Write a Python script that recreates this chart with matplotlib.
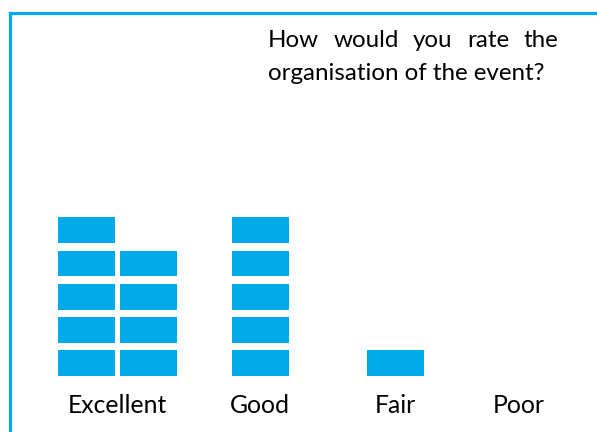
import matplotlib
matplotlib.use("Agg")
import matplotlib.pyplot as plt
from matplotlib.lines import Line2D

# survey answers
categories = ["Excellent", "Good", "Fair", "Poor"]
counts = [9, 5, 1, 0]
title_lines = ["How would you rate the", "organisation of the event?"]

BLUE = "#00a9e8"
INK = "#000000"
FONT = dict(family="Lato", color=INK)
per_column = 5          # blocks stacked per column before starting a new one
block_h = 0.78          # block height in y units (one unit = one block pitch)
block_w = 57            # width in pixel-like x units
col_pitch = 62
centers = [117, 260, 395, 519]

W, H = 597, 432
fig = plt.figure(figsize=(W / 100, H / 100), dpi=100)
ax = fig.add_axes([0, 0, 1, 1])
ax.set_xlim(0, W)
# y: 0 at block baseline, one unit per stacked block
px_per_unit = 33.2
base_px = 376
ax.set_ylim((base_px - H) / px_per_unit, base_px / px_per_unit)
ax.axis("off")

for cat, n, cx in zip(categories, counts, centers):
    ncols = (n + per_column - 1) // per_column
    xs, bottoms = [], []
    for i in range(n):
        col = i // per_column
        row = i % per_column
        xs.append(cx + (col - (ncols - 1) / 2) * col_pitch)
        bottoms.append(row)
    if n:
        ax.bar(xs, block_h, bottom=bottoms, width=block_w, color=BLUE,
               edgecolor="none")
    ax.text(cx, (base_px - 413) / px_per_unit, cat, ha="center",
            va="baseline", fontsize=17.8, **FONT)

# title: first line justified between left and right edge, second flush left
renderer = fig.canvas.get_renderer()
left, right = 268, 558
baselines = [47, 80]
words = title_lines[0].split()
arts = [fig.text(0, 0, w, fontsize=17.4, va="baseline", **FONT) for w in words]
widths = [a.get_window_extent(renderer).width for a in arts]
gap = (right - left - sum(widths)) / (len(words) - 1)
x = left
for a, w in zip(arts, widths):
    a.set_position((x / W, 1 - baselines[0] / H))
    x += w + gap
fig.text(left / W, 1 - baselines[1] / H, title_lines[1], fontsize=17.4,
         va="baseline", **FONT)

# frame: top and left edges only
fig.add_artist(Line2D([9.5 / W, 1], [1 - 12.5 / H] * 2,
                      transform=fig.transFigure, color=BLUE, lw=2.3))
fig.add_artist(Line2D([9.5 / W] * 2, [0, 1 - 12.5 / H],
                      transform=fig.transFigure, color=BLUE, lw=2.3))

fig.savefig("out.png", dpi=100, facecolor="white")
